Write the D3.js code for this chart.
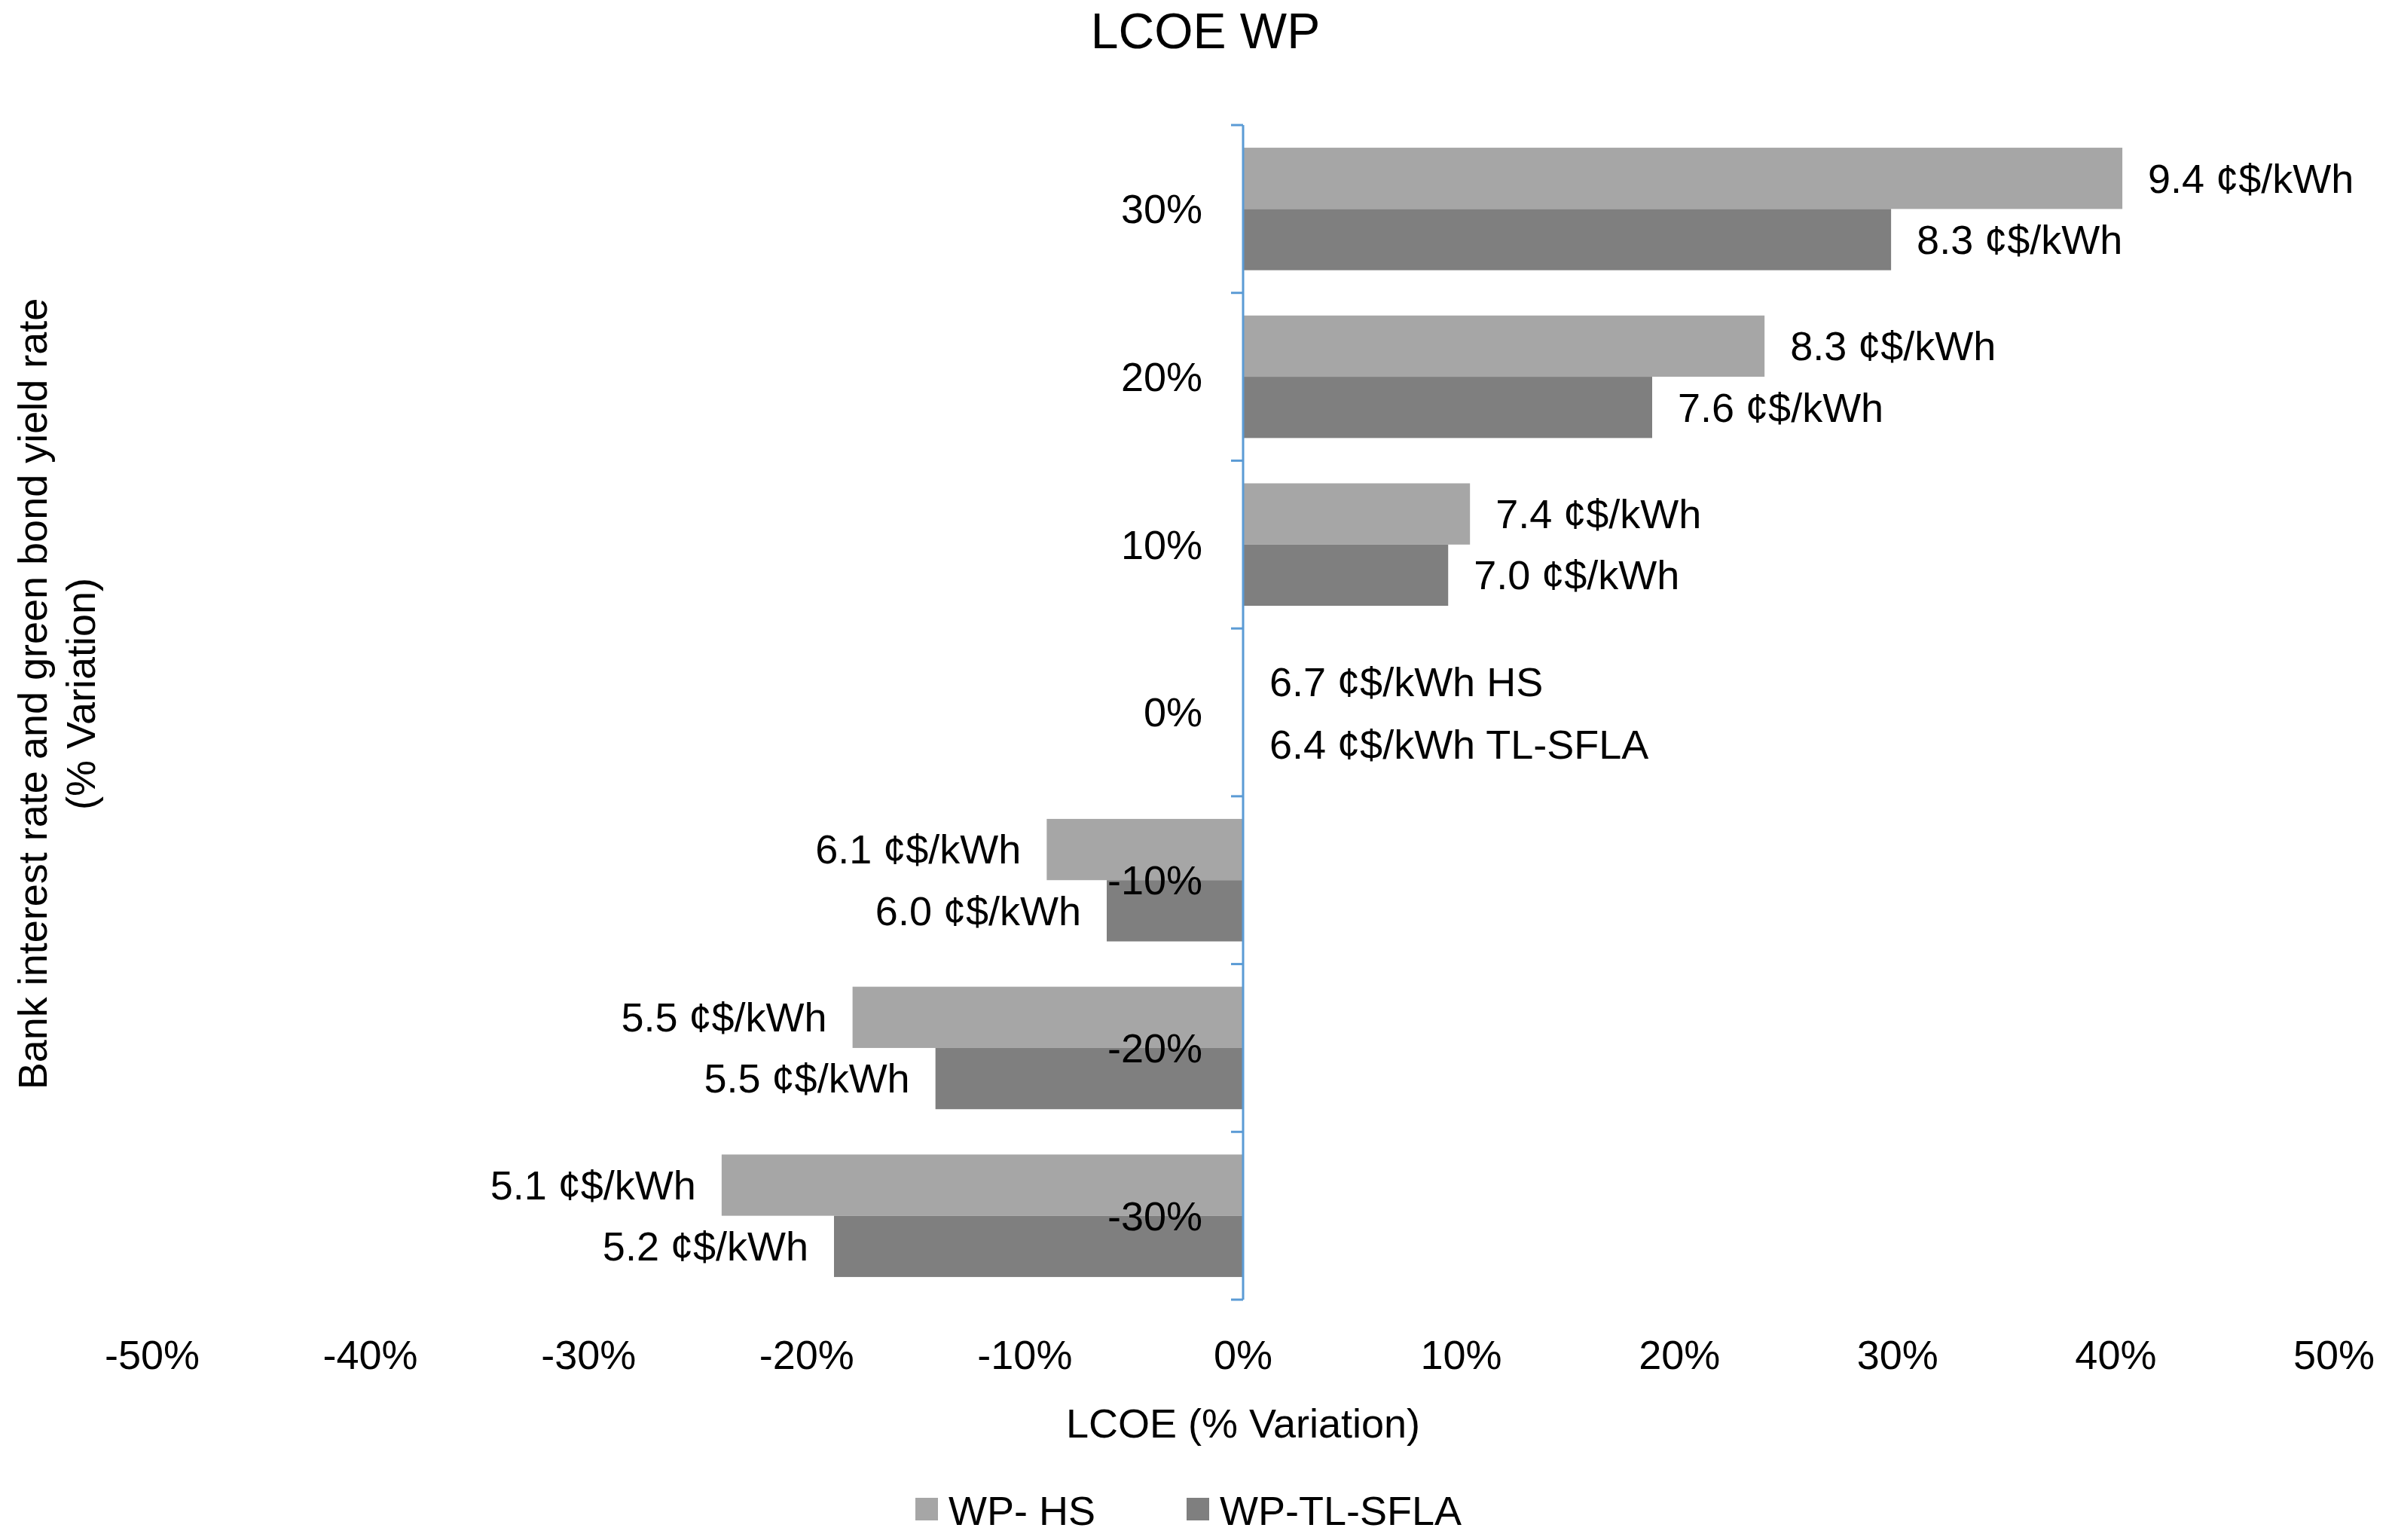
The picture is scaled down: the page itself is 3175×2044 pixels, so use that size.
<!DOCTYPE html>
<html><head><meta charset="utf-8">
<script src="https://cdn.jsdelivr.net/npm/d3@7/dist/d3.min.js"></script>
<style>body{margin:0;background:#fff}text{font-family:"Liberation Sans",Arial,sans-serif;fill:#000}</style>
</head><body><svg id="c" width="3175" height="2044"></svg>
<script>
const categories=["30%","20%","10%","0%","-10%","-20%","-30%"];
const hsVar=[40.3,23.9,10.4,0,-9.0,-17.9,-23.9];
const tlVar=[29.7,18.75,9.4,0,-6.25,-14.1,-18.75];
const hsLabel=["9.4 ¢$/kWh","8.3 ¢$/kWh","7.4 ¢$/kWh","","6.1 ¢$/kWh","5.5 ¢$/kWh","5.1 ¢$/kWh"];
const tlLabel=["8.3 ¢$/kWh","7.6 ¢$/kWh","7.0 ¢$/kWh","","6.0 ¢$/kWh","5.5 ¢$/kWh","5.2 ¢$/kWh"];
const baseLabels=["6.7 ¢$/kWh HS","6.4 ¢$/kWh TL-SFLA"];
const xTicks=[-50,-40,-30,-20,-10,0,10,20,30,40,50];
const svg=d3.select("#c");
const x=d3.scaleLinear().domain([-50,50]).range([202,3098]);
const y=d3.scaleBand().domain(categories).range([166,1725]).paddingInner(0.27).paddingOuter(0.135);
const sub=d3.scaleBand().domain(["hs","tl"]).range([0,y.bandwidth()]);
const col={hs:"#a6a6a6",tl:"#7f7f7f"};
const fs=54;
svg.append("text").attr("x",1600).attr("y",64).attr("text-anchor","middle").attr("font-size",66).text("LCOE WP");
const series=[["hs",hsVar,hsLabel],["tl",tlVar,tlLabel]];
series.forEach(([k,vals,labs])=>{
  categories.forEach((c,i)=>{
    const v=vals[i]; if(v===0)return;
    const yy=y(c)+sub(k);
    svg.append("rect").attr("x",x(Math.min(0,v))).attr("y",yy).attr("width",Math.abs(x(v)-x(0))).attr("height",sub.bandwidth()).attr("fill",col[k]);
    svg.append("text").attr("x",v>0?x(v)+34:x(v)-34).attr("y",yy+sub.bandwidth()/2).attr("dy","0.35em")
      .attr("text-anchor",v>0?"start":"end").attr("font-size",fs).text(labs[i]);
  });
});
// axis line
svg.append("line").attr("x1",x(0)).attr("x2",x(0)).attr("y1",166).attr("y2",1725).attr("stroke","#5b9bd5").attr("stroke-width",3);
const step=(1725-166)/categories.length;
d3.range(categories.length+1).forEach(i=>{
  svg.append("line").attr("x1",x(0)-16).attr("x2",x(0)).attr("y1",166+i*step).attr("y2",166+i*step).attr("stroke","#5b9bd5").attr("stroke-width",3);
});
categories.forEach(c=>{
  svg.append("text").attr("x",1596).attr("y",y(c)+y.bandwidth()/2).attr("dy","0.35em").attr("text-anchor","end").attr("font-size",fs).text(c);
});
baseLabels.forEach((t,i)=>{
  svg.append("text").attr("x",1685).attr("y",905+i*83).attr("dy","0.35em").attr("font-size",fs).text(t);
});
xTicks.forEach(t=>{
  svg.append("text").attr("x",x(t)).attr("y",1798).attr("dy","0.35em").attr("text-anchor","middle").attr("font-size",fs).text(t+"%");
});
svg.append("text").attr("x",1650).attr("y",1889).attr("dy","0.35em").attr("text-anchor","middle").attr("font-size",fs).text("LCOE (% Variation)");
const yt=svg.append("text").attr("transform","translate(62,921) rotate(-90)").attr("text-anchor","middle").attr("font-size",fs);
yt.append("tspan").attr("x",0).attr("dy",0).text("Bank interest rate and green bond yield rate");
yt.append("tspan").attr("x",0).attr("dy",64).text("(% Variation)");
const leg=[["WP- HS","hs",1215],["WP-TL-SFLA","tl",1575]];
leg.forEach(([t,k,lx])=>{
  svg.append("rect").attr("x",lx).attr("y",1988).attr("width",30).attr("height",30).attr("fill",col[k]);
  svg.append("text").attr("x",lx+44).attr("y",2005).attr("dy","0.35em").attr("font-size",fs).text(t);
});
</script></body></html>
